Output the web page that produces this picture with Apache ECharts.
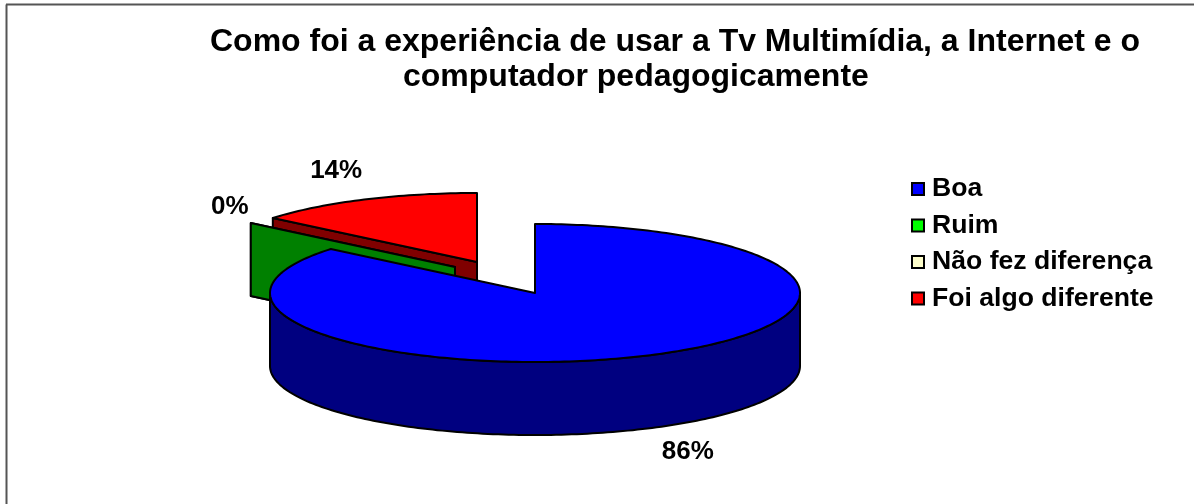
<!DOCTYPE html>
<html><head><meta charset="utf-8">
<style>html,body{margin:0;padding:0;background:#fff}#c{width:1194px;height:504px}</style>
<script src="https://cdn.jsdelivr.net/npm/echarts@6/dist/echarts.min.js"></script>
</head><body><div id="c"></div>
<script>
const titleLines = ['Como foi a experiência de usar a Tv Multimídia, a Internet e o', 'computador pedagogicamente'];
const categories = ['Boa', 'Ruim', 'Não fez diferença', 'Foi algo diferente'];
const values = [86, 0, 0, 14];
const valueLabels = ['86%', '0%', '', '14%'];
const topColors = ['#0000FF', '#00FF00', '#FFFFCC', '#FF0000'];
const sliceColors = ['#0000FF', '#008000', '#FFFFCC', '#FF0000'];
const wallColors = ['#000080', '#008000', '#808066', '#800000'];

const F = '"Liberation Sans", Arial, sans-serif';
const geo = {cx: 535, cy: 293, rx: 265, ry: 69, depth: 73};
// per-slice pull-out (explosion) and label offset from the slice's outer rim
const pull = [[0, 0], [-80, -26], [-80, -26], [-58, -31]];
const labelOff = [[40, 96], [-21, -16], [0, 0], [-28, -29]];
const drawOrder = [3, 2, 1, 0];

const total = values.reduce((a, b) => a + b, 0);
const startFrac = values.map((v, i) => values.slice(0, i).reduce((a, b) => a + b, 0) / total);

function rim(i, theta) {
  return [geo.cx + pull[i][0] + geo.rx * Math.sin(theta), geo.cy + pull[i][1] - geo.ry * Math.cos(theta)];
}
function arc(i, a0, a1) {
  const n = Math.max(1, Math.ceil(Math.abs(a1 - a0) / 0.02)), pts = [];
  for (let k = 0; k <= n; k++) pts.push(rim(i, a0 + (a1 - a0) * k / n));
  return pts;
}
const stroke = {stroke: '#000', lineWidth: 2, lineJoin: 'round'};

function renderSlice(i) {
  const a0 = startFrac[i] * 2 * Math.PI, a1 = (startFrac[i] + values[i] / total) * 2 * Math.PI;
  const apex = [geo.cx + pull[i][0], geo.cy + pull[i][1]];
  const d = geo.depth, kids = [];
  const poly = (points, fill) => kids.push({type: 'polygon', shape: {points}, style: {fill, ...stroke}});

  // flat wall along the slice's starting radial edge (faces the viewer on the left half)
  const e = rim(i, a0);
  if (Math.sin(a0) < -0.01) poly([e, apex, [apex[0], apex[1] + d], [e[0], e[1] + d]], wallColors[i]);
  // curved outer wall on the front half
  const f0 = Math.max(a0, Math.PI / 2), f1 = Math.min(a1, 3 * Math.PI / 2);
  if (f1 > f0) {
    const top = arc(i, f0, f1);
    poly(top.concat(top.slice().reverse().map(p => [p[0], p[1] + d])), wallColors[i]);
  }
  // top face
  if (values[i] > 0) poly([apex].concat(arc(i, a0, a1)), sliceColors[i]);
  // value label
  if (valueLabels[i]) {
    const m = rim(i, (a0 + a1) / 2);
    kids.push({type: 'text', style: {
      x: m[0] + labelOff[i][0], y: m[1] + labelOff[i][1], text: valueLabels[i],
      fill: '#000', font: 'bold 26px ' + F, align: 'center', verticalAlign: 'middle'}});
  }
  return {type: 'group', children: kids};
}

const series = drawOrder.map((i, z) => ({
  type: 'custom', name: categories[i], coordinateSystem: 'none', z: z + 2,
  silent: true, animation: false, clip: false,
  itemStyle: {color: topColors[i], borderColor: '#000', borderWidth: 1.5},
  data: [values[i]],
  renderItem: () => renderSlice(i)
}));

const titleStyle = {fontFamily: F, fontWeight: 'bold', fontSize: 32, color: '#000'};
const chart = echarts.init(document.getElementById('c'), null, {renderer: 'canvas'});
chart.setOption({
  animation: false,
  backgroundColor: '#fff',
  title: [
    {text: titleLines[0], left: 205, top: 21, textStyle: titleStyle},
    {text: titleLines[1], left: 398, top: 56, textStyle: titleStyle}
  ],
  legend: {
    orient: 'vertical', left: 906, top: 170.5, icon: 'rect', itemWidth: 12, itemHeight: 12, itemGap: 9.5,
    selectedMode: false,
    data: categories.map((n, i) => ({name: n, itemStyle: {color: topColors[i], borderColor: '#000', borderWidth: 2}})),
    textStyle: {fontFamily: F, fontWeight: 'bold', fontSize: 26.6, color: '#000', lineHeight: 24.5, padding: [0, 0, 0, 3]}
  },
  graphic: [
    {type: 'line', shape: {x1: 6.5, y1: 4.5, x2: 6.5, y2: 504}, style: {stroke: '#555', lineWidth: 2}},
    {type: 'line', shape: {x1: 6, y1: 4.5, x2: 1194, y2: 4.5}, style: {stroke: '#555', lineWidth: 2}}
  ],
  series
});
</script></body></html>
